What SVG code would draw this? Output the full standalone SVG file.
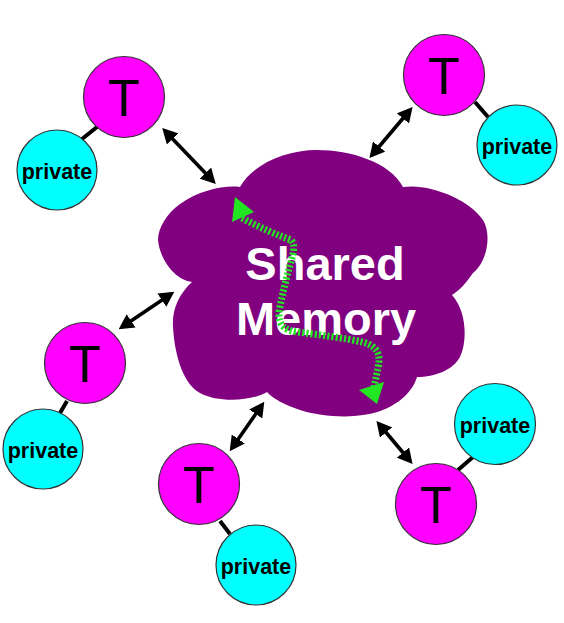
<svg xmlns="http://www.w3.org/2000/svg" width="564" height="623" viewBox="0 0 564 623">
  <style>
    .t { fill: #ff00ff; stroke: #333; stroke-width: 1.2; }
    .p { fill: #00ffff; stroke: #333; stroke-width: 1.2; }
    .tl { font-family: "Liberation Sans", Arial, sans-serif; font-size: 52px; fill: #000; text-anchor: middle; }
    .pl { font-family: "Liberation Sans", Arial, sans-serif; font-size: 21.5px; font-weight: bold; fill: #000; text-anchor: middle; }
    .link { stroke: #000; stroke-width: 4; }
    .arr { stroke: #000; stroke-width: 3.6; fill: none; marker-start: url(#ah); marker-end: url(#ah); }
    .cloudtxt { font-family: "Liberation Sans", Arial, sans-serif; font-size: 47px; font-weight: bold; fill: #fff; text-anchor: middle; }
  </style>
  <defs>
    <marker id="ah" viewBox="0 0 15 16" refX="11" refY="8" markerWidth="15" markerHeight="16" markerUnits="userSpaceOnUse" orient="auto-start-reverse">
      <path d="M0,0 L15,8 L0,16 z" fill="#000"/>
    </marker>
  </defs>
  <rect width="564" height="623" fill="#fff"/>

  <g id="shared-memory">
    <path fill="#800080" d="M240,187 C252,165 285,150 317,150 C350,150 390,162 403,187 C430,183 470,200 483,220 C492,235 487,262 473,273 C466,283 460,290 452,295 C466,310 468,340 460,357 C453,370 435,377 417,377 C412,395 390,412 363,415 C345,418 318,416 300,410 C285,405 272,398 267,392 C255,400 220,404 200,393 C185,385 175,360 173,327 C172,310 178,295 192,282 C175,280 160,260 158,240 C158,228 167,213 180,204 C200,190 225,185 240,187 Z"/>
    <text class="cloudtxt" x="325" y="280">Shared</text>
    <text class="cloudtxt" x="326" y="335">Memory</text>
    <path d="M242,218 C260,228 280,236 291,240 C296,245 293,255 290,265 C286,280 282,295 279,312 C278,325 285,331 298,332 C320,335 345,338 362,342 C378,346 381,355 378,368 L374,387" fill="none" stroke="#22e622" stroke-width="7" stroke-dasharray="2.2 2"/>
    <polygon points="235,197 254,212 232,222" fill="#22e622"/>
    <polygon points="359,390 384,382 377,404" fill="#22e622"/>
  </g>

  <g id="connectors">
    <line class="link" x1="82" y1="139" x2="97" y2="127"/>
    <line class="link" x1="475" y1="102" x2="488" y2="117"/>
    <line class="link" x1="67" y1="401" x2="60" y2="413"/>
    <line class="link" x1="220" y1="521" x2="230" y2="534"/>
    <line class="link" x1="458" y1="470" x2="473" y2="457"/>
    <line class="arr" x1="165" y1="131" x2="213" y2="181"/>
    <line class="arr" x1="410" y1="110" x2="372" y2="155"/>
    <line class="arr" x1="171" y1="294" x2="122" y2="327"/>
    <line class="arr" x1="262" y1="405" x2="232" y2="448"/>
    <line class="arr" x1="379" y1="424" x2="410" y2="461"/>
  </g>

  <g id="t1"><circle class="t" cx="124" cy="97" r="40.5"/><text class="tl" x="124" y="116">T</text></g>
  <g id="p1"><circle class="p" cx="57" cy="170" r="40"/><text class="pl" x="57" y="179">private</text></g>

  <g id="t2"><circle class="t" cx="444" cy="75" r="40.5"/><text class="tl" x="444" y="94">T</text></g>
  <g id="p2"><circle class="p" cx="517" cy="145" r="40"/><text class="pl" x="517" y="154">private</text></g>

  <g id="t3"><circle class="t" cx="85" cy="363" r="40.5"/><text class="tl" x="85" y="382">T</text></g>
  <g id="p3"><circle class="p" cx="43" cy="449" r="40"/><text class="pl" x="43" y="458">private</text></g>

  <g id="t4"><circle class="t" cx="199" cy="484" r="40.5"/><text class="tl" x="199" y="503">T</text></g>
  <g id="p4"><circle class="p" cx="256" cy="565" r="40"/><text class="pl" x="256" y="574">private</text></g>

  <g id="t5"><circle class="t" cx="436" cy="504" r="40.5"/><text class="tl" x="436" y="523">T</text></g>
  <g id="p5"><circle class="p" cx="495" cy="424" r="40.5"/><text class="pl" x="495" y="433">private</text></g>
</svg>
